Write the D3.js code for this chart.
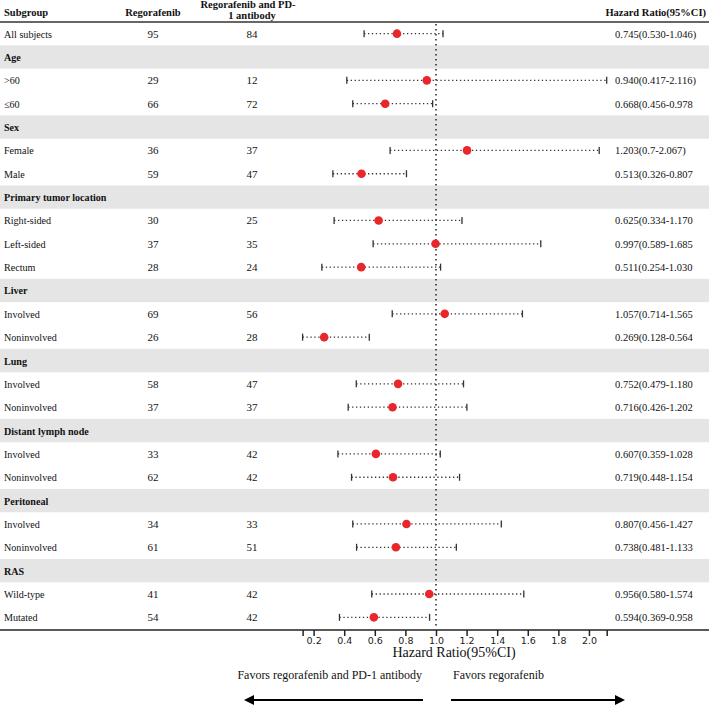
<!DOCTYPE html>
<html>
<head>
<meta charset="utf-8">
<script src="https://cdn.jsdelivr.net/npm/d3@7"></script>
<style>
  html, body { margin: 0; padding: 0; background: #fff; }
  svg { display: block; }
</style>
</head>
<body>
<svg id="chart" width="709" height="710"></svg>
<script>
// ---------- DATA ----------
const labels = ["All subjects","Age",">60","≤60","Sex","Female","Male","Primary tumor location",
  "Right-sided","Left-sided","Rectum","Liver","Involved","Noninvolved","Lung","Involved","Noninvolved",
  "Distant lymph node","Involved","Noninvolved","Peritoneal","Involved","Noninvolved","RAS","Wild-type","Mutated"];
const isGroup = [false,true,false,false,true,false,false,true,false,false,false,true,false,false,true,false,false,
  true,false,false,true,false,false,true,false,false];
const nRegorafenib = [95,null,29,66,null,36,59,null,30,37,28,null,69,26,null,58,37,null,33,62,null,34,61,null,41,54];
const nCombination = [84,null,12,72,null,37,47,null,25,35,24,null,56,28,null,47,37,null,42,42,null,33,51,null,42,42];
const hr    = [0.745,null,0.940,0.668,null,1.203,0.513,null,0.625,0.997,0.511,null,1.057,0.269,null,0.752,0.716,null,0.607,0.719,null,0.807,0.738,null,0.956,0.594];
const lower = [0.530,null,0.417,0.456,null,0.7,0.326,null,0.334,0.589,0.254,null,0.714,0.128,null,0.479,0.426,null,0.359,0.448,null,0.456,0.481,null,0.580,0.369];
const upper = [1.046,null,2.116,0.978,null,2.067,0.807,null,1.170,1.685,1.030,null,1.565,0.564,null,1.180,1.202,null,1.028,1.154,null,1.427,1.133,null,1.574,0.958];
const hrText = ["0.745(0.530-1.046)",null,"0.940(0.417-2.116)","0.668(0.456-0.978",null,"1.203(0.7-2.067)","0.513(0.326-0.807",null,
  "0.625(0.334-1.170","0.997(0.589-1.685","0.511(0.254-1.030",null,"1.057(0.714-1.565","0.269(0.128-0.564",null,
  "0.752(0.479-1.180","0.716(0.426-1.202",null,"0.607(0.359-1.028","0.719(0.448-1.154",null,
  "0.807(0.456-1.427","0.738(0.481-1.133",null,"0.956(0.580-1.574","0.594(0.369-0.958"];
const tickValues = [0.128,0.2,0.4,0.6,0.8,1.0,1.2,1.4,1.6,1.8,2.0,2.116];
const tickLabels = ["","0.2","0.4","0.6","0.8","1.0","1.2","1.4","1.6","1.8","2.0",""];
const headers = ["Subgroup","Regorafenib",["Regorafenib and PD-","1 antibody"],"Hazard Ratio(95%CI)"];
const axisTitle = "Hazard Ratio(95%CI)";
const favorLeft = "Favors regorafenib and PD-1 antibody";
const favorRight = "Favors regorafenib";

// ---------- LAYOUT ----------
const W = 709;
const svg = d3.select("#chart");
const serif = "'Liberation Serif', 'Times New Roman', serif";
const sans = "'DejaVu Sans', sans-serif";
const tableTop = 22, tableBottom = 629;
const y = d3.scaleBand().domain(d3.range(labels.length)).range([tableTop, tableBottom]).padding(0);
const x = d3.scaleLinear().domain([0.128, 2.116]).range([302.6, 606.7]);
const colN1 = 153, colN2 = 252, colHR = 615;
const squeeze = "scale(0.92,1)";

// group bands
svg.append("g").selectAll("rect").data(d3.range(labels.length).filter(i => isGroup[i])).join("rect")
  .attr("x", 0).attr("width", W).attr("y", i => y(i)).attr("height", y.bandwidth())
  .attr("fill", "#e5e5e5");

// headers
const hg = svg.append("g").attr("font-family", serif).attr("font-weight", "bold").attr("font-size", 10.5).attr("fill", "#111");
hg.append("text").attr("x", 4).attr("y", 16).text(headers[0]);
hg.append("text").attr("x", colN1).attr("y", 16).attr("text-anchor", "middle").text(headers[1]);
hg.append("text").attr("x", colN2 - 4).attr("y", 8).attr("text-anchor", "middle").text(headers[2][0]);
hg.append("text").attr("x", colN2).attr("y", 19).attr("text-anchor", "middle").text(headers[2][1]);
hg.append("text").attr("x", 706).attr("y", 16).attr("text-anchor", "end").text(headers[3]);

svg.append("line").attr("x1", 0).attr("x2", W).attr("y1", tableTop).attr("y2", tableTop)
  .attr("stroke", "#333").attr("stroke-width", 1.5);

// row text
const rows = svg.append("g").attr("font-family", serif).attr("font-size", 11).attr("fill", "#111");
const rowG = rows.selectAll("g").data(d3.range(labels.length)).join("g")
  .attr("transform", i => `translate(0,${y(i) + y.bandwidth() / 2 + 4})`);
rowG.append("g").attr("transform", "translate(4,0)").append("text")
  .attr("transform", squeeze)
  .attr("font-weight", i => isGroup[i] ? "bold" : "normal")
  .text(i => labels[i]);
rowG.filter(i => nRegorafenib[i] != null).append("text").attr("x", colN1).attr("text-anchor", "middle").text(i => nRegorafenib[i]);
rowG.filter(i => nCombination[i] != null).append("text").attr("x", colN2).attr("text-anchor", "middle").text(i => nCombination[i]);
rowG.filter(i => hrText[i] != null).append("text").attr("x", colHR).attr("font-size", 10.5).text(i => hrText[i]);

// reference line at 1
svg.append("line").attr("x1", x(1)).attr("x2", x(1)).attr("y1", tableTop + 2).attr("y2", tableBottom)
  .attr("stroke", "#222").attr("stroke-width", 1.5).attr("stroke-dasharray", "1.5,3.5");

// CI lines
const dataIdx = d3.range(labels.length).filter(i => hr[i] != null);
const ci = svg.append("g");
const cy = i => y(i) + y.bandwidth() / 2;
ci.selectAll("line.ci").data(dataIdx).join("line").attr("class", "ci")
  .attr("x1", i => x(lower[i])).attr("x2", i => x(upper[i]))
  .attr("y1", cy).attr("y2", cy)
  .attr("stroke", "#333").attr("stroke-width", 1.3).attr("stroke-dasharray", "1.3,2.6");
ci.selectAll("line.capL").data(dataIdx).join("line").attr("class", "capL")
  .attr("x1", i => x(lower[i])).attr("x2", i => x(lower[i]))
  .attr("y1", i => cy(i) - 3.5).attr("y2", i => cy(i) + 3.5)
  .attr("stroke", "#333").attr("stroke-width", 1.3);
ci.selectAll("line.capU").data(dataIdx).join("line").attr("class", "capU")
  .attr("x1", i => x(upper[i])).attr("x2", i => x(upper[i]))
  .attr("y1", i => cy(i) - 3.5).attr("y2", i => cy(i) + 3.5)
  .attr("stroke", "#333").attr("stroke-width", 1.3);
ci.selectAll("circle").data(dataIdx).join("circle")
  .attr("cx", i => x(hr[i])).attr("cy", cy).attr("r", 4.3)
  .attr("fill", "#e8262b");

// bottom line + axis
svg.append("line").attr("x1", 0).attr("x2", W).attr("y1", tableBottom + 1).attr("y2", tableBottom + 1)
  .attr("stroke", "#222").attr("stroke-width", 1.5);
const axis = d3.axisBottom(x).tickValues(tickValues).tickSize(6).tickFormat((d, i) => tickLabels[i]);
const ag = svg.append("g").attr("transform", `translate(0,${tableBottom + 1})`).call(axis);
ag.select(".domain").remove();
ag.selectAll(".tick line").attr("stroke", "#222").attr("stroke-width", 1.5);
ag.selectAll(".tick text").attr("font-family", sans).attr("font-size", 9.5).attr("fill", "#222").attr("dy", "0.55em");

svg.append("text").attr("x", 454).attr("y", 657).attr("text-anchor", "middle")
  .attr("font-family", serif).attr("font-size", 14).attr("fill", "#111").text(axisTitle);

svg.append("text").attr("x", 422).attr("y", 679).attr("text-anchor", "end")
  .attr("font-family", serif).attr("font-size", 12).attr("fill", "#111").text(favorLeft);
svg.append("text").attr("x", 453).attr("y", 679)
  .attr("font-family", serif).attr("font-size", 12).attr("fill", "#111").text(favorRight);

// arrows
const defs = svg.append("defs");
defs.append("marker").attr("id", "ah").attr("viewBox", "0 0 10 10").attr("refX", 2).attr("refY", 5)
  .attr("markerWidth", 6).attr("markerHeight", 5).attr("markerUnits", "strokeWidth").attr("orient", "auto")
  .append("path").attr("d", "M0,0 L10,5 L0,10 Z").attr("fill", "#000");
svg.append("line").attr("x1", 423).attr("x2", 252).attr("y1", 700).attr("y2", 700)
  .attr("stroke", "#000").attr("stroke-width", 2).attr("marker-end", "url(#ah)");
svg.append("line").attr("x1", 451).attr("x2", 617).attr("y1", 700).attr("y2", 700)
  .attr("stroke", "#000").attr("stroke-width", 2).attr("marker-end", "url(#ah)");
</script>
</body>
</html>
